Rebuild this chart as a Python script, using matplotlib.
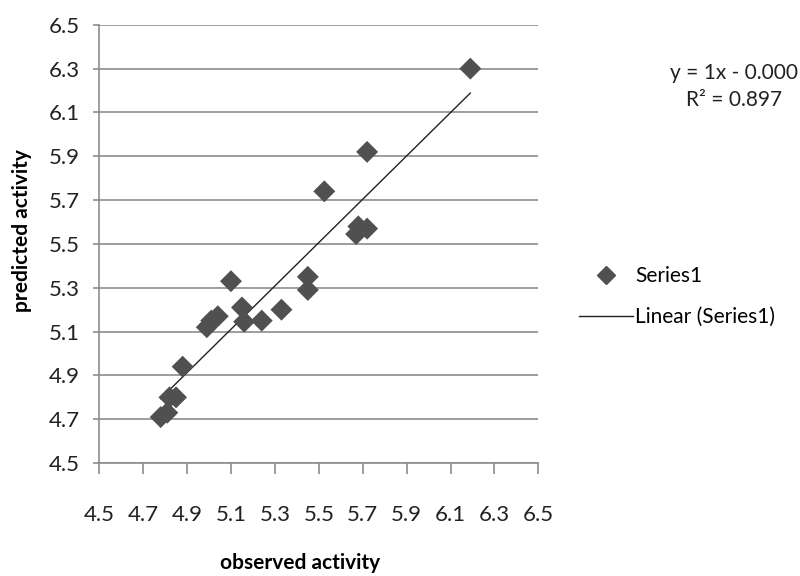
import matplotlib.pyplot as plt
import numpy as np
from matplotlib.lines import Line2D

plt.rcParams['font.family'] = ['Lato', 'DejaVu Sans']

# observed vs predicted activity
observed = [4.78, 4.81, 4.82, 4.85, 4.88, 4.99, 5.01, 5.04, 5.10, 5.15,
            5.16, 5.24, 5.33, 5.45, 5.45, 5.525, 5.67, 5.68, 5.72, 5.72, 6.19]
predicted = [4.71, 4.73, 4.80, 4.80, 4.94, 5.12, 5.15, 5.17, 5.33, 5.21,
             5.145, 5.15, 5.20, 5.35, 5.29, 5.74, 5.545, 5.58, 5.57, 5.92, 6.30]
ticks = [4.5, 4.7, 4.9, 5.1, 5.3, 5.5, 5.7, 5.9, 6.1, 6.3, 6.5]

fig = plt.figure(figsize=(8, 5.76), dpi=100)
ax = fig.add_axes([0.124, 0.196, 0.549, 0.761])

x = np.array(observed)
y = np.array(predicted)
slope, icpt = np.polyfit(x, y, 1)
xl = np.array([x.min(), x.max()])

ax.plot(xl, slope * xl + icpt, color='#222222', lw=1.0, zorder=2)
ax.scatter(x, y, marker='D', s=125, color='#505050', edgecolors='none', zorder=3)

ax.set_xlim(4.5, 6.5)
ax.set_ylim(4.5, 6.5)
ax.set_xticks(ticks)
ax.set_yticks(ticks)
ax.set_xticklabels([f'{t:.1f}' for t in ticks])
ax.set_yticklabels([f'{t:.1f}' for t in ticks])
ax.grid(axis='y', color='#8c8c8c', lw=1.2)
ax.set_axisbelow(True)
for s in ['top', 'right']:
    ax.spines[s].set_visible(False)
for s in ['left', 'bottom']:
    ax.spines[s].set_color('#8c8c8c')
    ax.spines[s].set_linewidth(1.2)
ax.tick_params(axis='x', length=8, width=1.2, color='#8c8c8c', pad=22, labelsize=16, labelcolor='#222222')
ax.tick_params(axis='y', length=4, width=1.2, color='#8c8c8c', pad=10, labelsize=16, labelcolor='#222222')

fig.text(0.375, 0.005, 'observed activity', ha='center', va='bottom', fontsize=15, fontweight='bold')
fig.text(0.027, 0.60, 'predicted activity', ha='center', va='center', rotation=90,
         fontsize=15, fontweight='bold')

fig.text(0.918, 0.85, 'y = 1x - 0.000\nR² = 0.897', ha='center', va='center',
         fontsize=15, linespacing=1.4, color='#222222')

handles = [Line2D([], [], marker='D', ls='none', color='#505050', markersize=9),
           Line2D([], [], color='#222222', lw=1.0)]
fig.legend(handles, ['Series1', 'Linear (Series1)'], loc='center left',
           bbox_to_anchor=(0.70, 0.485), frameon=False, fontsize=15,
           handlelength=2.6, handletextpad=0.1, labelspacing=1.0)

fig.savefig('out.png', dpi=100)
